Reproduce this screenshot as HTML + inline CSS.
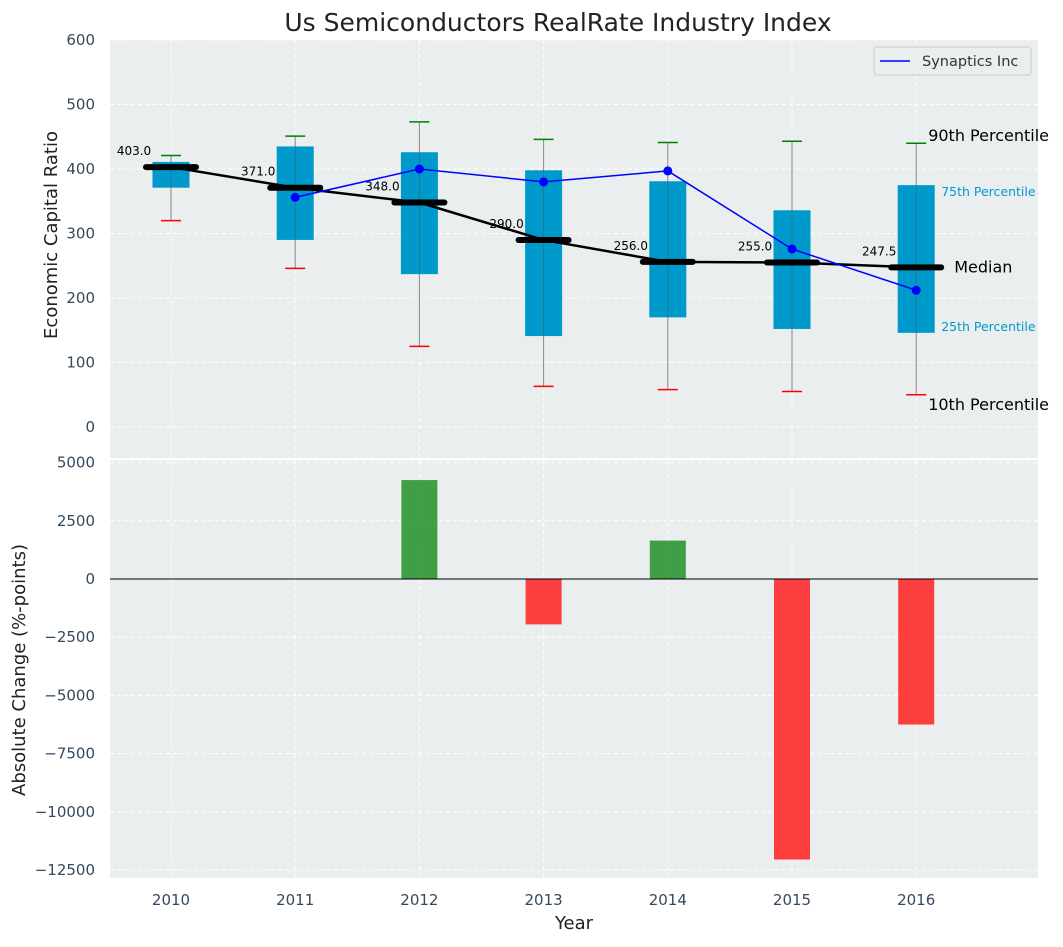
<!DOCTYPE html>
<html><head><meta charset="utf-8"><style>
body{margin:0;background:#fff;font-family:"Liberation Sans","DejaVu Sans",sans-serif}
</style></head><body>
<svg id="c" width="1063" height="942" xmlns="http://www.w3.org/2000/svg" font-family="DejaVu Sans, Liberation Sans, sans-serif"></svg>
<script>
const years=[2010,2011,2012,2013,2014,2015,2016];
const p10=[320,246,125,63,58,55,50];
const q1=[371,290,237,141,170,152,146];
const med=[403,371,348,290,256,255,247.5];
const q3=[411,435,426,398,381,336,375];
const p90=[421,451,473,446,441,443,440];
const syn=[null,356,400,380,397,276,212];
const change=[0,0,4250,-1950,1650,-12050,-6250];
const topTicks=[0,100,200,300,400,500,600];
const botTicks=[5000,2500,0,-2500,-5000,-7500,-10000,-12500];
const NS="http://www.w3.org/2000/svg";
const svg=document.getElementById('c');
function el(t,a,p){const e=document.createElementNS(NS,t);for(const k in a)e.setAttribute(k,a[k]);(p||svg).appendChild(e);return e;}
const X=y=>171+(y-2010)*124.2;
const YT=v=>427-v*0.645;
const YB=v=>579-v*(58.2/2500);
const L=110,R=1038;
let e=el('rect',{x:L,y:40,width:R-L,height:418,fill:'#eaeeee'});

e=el('rect',{x:L,y:460,width:R-L,height:418,fill:'#eaeeee'});

years.forEach(y=>{
 el('line',{x1:X(y),x2:X(y),y1:40,y2:458,stroke:'#fff','stroke-dasharray':'4,3'});
 el('line',{x1:X(y),x2:X(y),y1:460,y2:878,stroke:'#fff','stroke-dasharray':'4,3'});
 e=el('text',{x:X(y),y:905,'text-anchor':'middle','font-size':15,fill:'#34495e'});e.textContent=y;
 
});
topTicks.forEach(v=>{
 el('line',{x1:L,x2:R,y1:YT(v),y2:YT(v),stroke:'#fff','stroke-dasharray':'4,3'});
 e=el('text',{x:95,y:YT(v)+5,'text-anchor':'end','font-size':15,fill:'#34495e'});e.textContent=v;
 
});
botTicks.forEach(v=>{
 el('line',{x1:L,x2:R,y1:YB(v),y2:YB(v),stroke:'#fff','stroke-dasharray':'4,3'});
 e=el('text',{x:95,y:YB(v)+5,'text-anchor':'end','font-size':15,fill:'#34495e'});e.textContent=v<0?'\u2212'+(-v):v;
 
});
years.forEach((y,i)=>{
 const x=X(y);
 e=el('line',{x1:x,x2:x,y1:YT(p10[i]),y2:YT(p90[i]),stroke:'#888','stroke-width':1});
 
 e=el('rect',{x:x-18.5,y:YT(q3[i]),width:37,height:YT(q1[i])-YT(q3[i]),fill:'#0099cc'});
 
 el('line',{x1:x,x2:x,y1:YT(q1[i]),y2:YT(q3[i]),stroke:'#555','stroke-width':0.8,opacity:0.6});
 e=el('line',{x1:x-10,x2:x+10,y1:YT(p90[i]),y2:YT(p90[i]),stroke:'green','stroke-width':1.5});
 
 e=el('line',{x1:x-10,x2:x+10,y1:YT(p10[i]),y2:YT(p10[i]),stroke:'red','stroke-width':1.5});
 
});
e=el('polyline',{points:years.map((y,i)=>X(y)+','+YT(med[i])).join(' '),fill:'none',stroke:'#000','stroke-width':2.5});

years.forEach((y,i)=>{
 e=el('line',{x1:X(y)-25,x2:X(y)+25,y1:YT(med[i]),y2:YT(med[i]),stroke:'#000','stroke-width':6,'stroke-linecap':'round'});
 
 e=el('text',{x:X(y)-37,y:YT(med[i])-12,'text-anchor':'middle','font-size':12,fill:'#000'});e.textContent=med[i].toFixed(1);
 
});
const pts=[];years.forEach((y,i)=>{if(syn[i]!=null)pts.push([X(y),YT(syn[i])]);});
e=el('polyline',{points:pts.map(p=>p.join(',')).join(' '),fill:'none',stroke:'blue','stroke-width':1.5});

pts.forEach(p=>{e=el('circle',{cx:p[0],cy:p[1],r:4.5,fill:'blue'});});
const xl=X(2016);
[['90th Percentile',xl+12,YT(p90[6])-2,16,'#000'],['75th Percentile',xl+25,YT(q3[6])+11,12.5,'#0099cc'],['Median',xl+38,YT(med[6])+5,16,'#000'],['25th Percentile',xl+25,YT(q1[6])-2,12.5,'#0099cc'],['10th Percentile',xl+12,YT(p10[6])+15,16,'#000']].forEach(a=>{
 e=el('text',{x:a[1],y:a[2],'font-size':a[3],fill:a[4]});e.textContent=a[0];
 
});
e=el('rect',{x:874,y:47,width:157,height:28,fill:'#eaeeee',stroke:'#ccc',rx:3});

el('line',{x1:880,x2:910,y1:61,y2:61,stroke:'blue','stroke-width':1.5});
e=el('text',{x:922,y:66,'font-size':14.5,fill:'#333'});e.textContent='Synaptics Inc';

years.forEach((y,i)=>{
 const v=change[i];if(!v)return;
 e=el('rect',{x:X(y)-18,y:Math.min(YB(v),YB(0)),width:36,height:Math.abs(YB(v)-YB(0)),fill:v>0?'#2e9632':'#ff2a2a',opacity:0.9});
 
});
el('line',{x1:L,x2:R,y1:YB(0),y2:YB(0),stroke:'#000','stroke-width':1});
e=el('text',{x:558,y:31,'text-anchor':'middle','font-size':25,fill:'#222'});e.textContent='Us Semiconductors RealRate Industry Index';

e=el('text',{x:574,y:929,'text-anchor':'middle','font-size':18,fill:'#222'});e.textContent='Year';

e=el('text',{x:0,y:0,'text-anchor':'middle','font-size':18,fill:'#222',transform:'translate(57,235) rotate(-90)'});e.textContent='Economic Capital Ratio';

e=el('text',{x:0,y:0,'text-anchor':'middle','font-size':18,fill:'#222',transform:'translate(25,670) rotate(-90)'});e.textContent='Absolute Change (%-points)';

</script>
</body></html>
